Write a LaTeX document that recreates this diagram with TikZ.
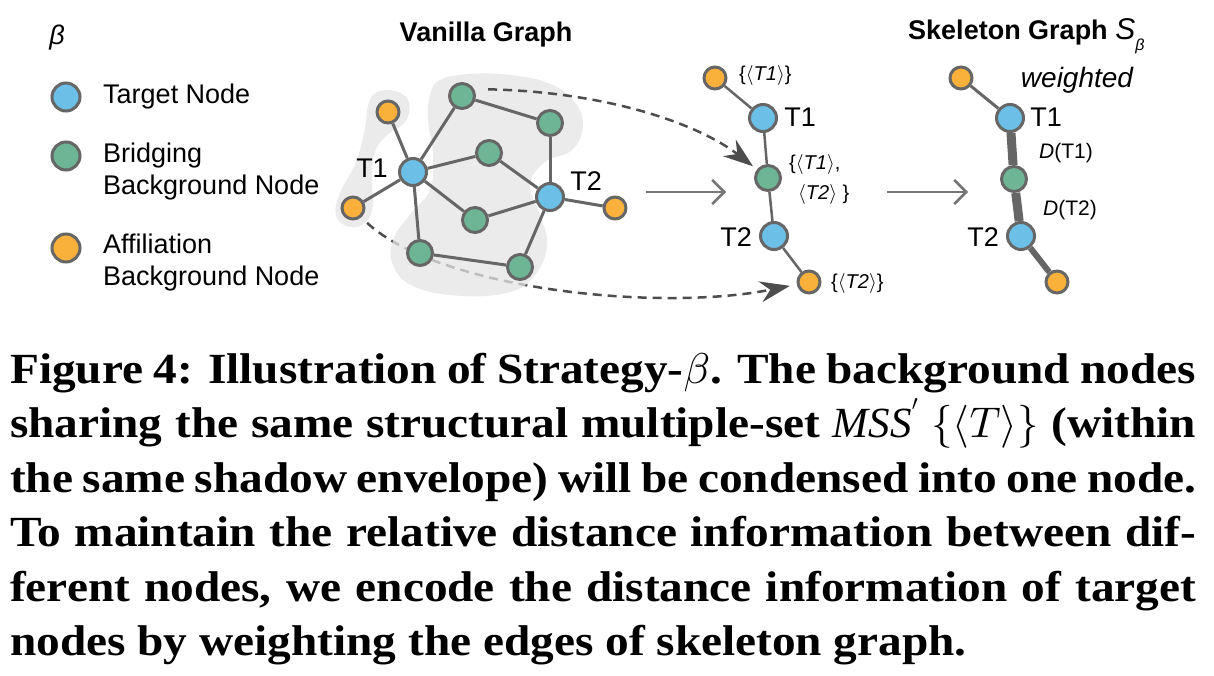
\documentclass[tikz,border=0pt]{standalone}
\usepackage{fontspec}
\setmainfont{Liberation Serif}
\setsansfont{Liberation Sans}
\newfontfamily\capfont{Liberation Serif}[FakeStretch=1.10]
\DeclareFontShape{OML}{cmm}{m}{it}{<->cmmi10}{}
\DeclareFontShape{OMS}{cmsy}{m}{n}{<->cmsy10}{}
\DeclareFontShape{OMX}{cmex}{m}{n}{<->cmex10}{}
\DeclareFontShape{OT1}{cmr}{m}{n}{<->cmr10}{}
\usetikzlibrary{arrows.meta}
\definecolor{tgtblue}{HTML}{6CBFE6}
\definecolor{brgreen}{HTML}{6DB595}
\definecolor{afforange}{HTML}{F9B13B}
\definecolor{rimgray}{HTML}{666666}
\definecolor{shadegray}{HTML}{E4E4E4}
\definecolor{dashgray}{HTML}{4D4D4D}
\pgfdeclarelayer{under}
\pgfdeclarelayer{shade}
\pgfsetlayers{under,shade,main}
\newcommand{\tagset}[1]{\{$\langle$\textit{#1}$\rangle$\}}
\tikzset{
    vertex/.style={circle,draw=rimgray,line width=3pt,inner sep=0pt},
    targetnode/.style={vertex,fill=tgtblue,minimum size=27pt},
    bridgenode/.style={vertex,fill=brgreen,minimum size=25pt},
    affilnode/.style={vertex,fill=afforange,minimum size=22pt},
    legendnode/.style={minimum size=28pt},
    edgeline/.style={draw=rimgray,line width=3pt},
    thinedge/.style={draw=rimgray,line width=2.5pt},
    envelope/.style={fill=shadegray,fill opacity=0.75},
    mapdash/.style={draw=dashgray,line width=2.5pt,dash pattern=on 9pt off 6pt,
        -{Stealth[length=30pt,width=21pt,inset=10pt]}},
    flowarrow/.style={draw=rimgray!90,line width=2.5pt,-{Straight Barb[length=12pt,width=24pt]}},
    biglbl/.style={inner sep=0pt,font=\sffamily\fontsize{27}{32}\selectfont},
    titlelbl/.style={inner sep=0pt,font=\sffamily\bfseries\fontsize{27}{32}\selectfont},
    smalllbl/.style={inner sep=0pt,font=\sffamily\fontsize{20}{30}\selectfont}
}
\begin{document}
\begin{tikzpicture}[x=1pt,y=-1pt,font=\sffamily]
\useasboundingbox (0,0) rectangle (1214,676);
\node[biglbl] (betalbl) at (57,38) {\textit{β}};
\node[targetnode,legendnode] (legT) at (66,97) {};
\node[biglbl,anchor=west] (legTtxt) at (103,97) {Target Node};
\node[bridgenode,legendnode] (legB) at (66,156) {};
\node[biglbl,anchor=west,align=left] (legBtxt) at (103,172) {Bridging\\Background Node};
\node[affilnode,legendnode] (legA) at (66,248) {};
\node[biglbl,anchor=west,align=left] (legAtxt) at (103,263) {Affiliation\\Background Node};
\node[titlelbl] (vantitle) at (486,35) {Vanilla Graph};
\node[titlelbl,anchor=west] (skeltitle) at (908,36) {Skeleton Graph
    {\mdseries\fontsize{30}{30}\selectfont\textit{S}}\raisebox{-11pt}{\mdseries\fontsize{16}{16}\selectfont\textit{β}}};
\node[biglbl,font=\sffamily\itshape\fontsize{28}{32}\selectfont] (weightlbl) at (1077,80) {weighted};
\node[affilnode] (vA1) at (388,112) {};
\node[affilnode] (vA2) at (353,208) {};
\node[affilnode] (vA3) at (615,208) {};
\node[targetnode] (vT1) at (413,172) {};
\node[targetnode] (vT2) at (550,197) {};
\node[bridgenode] (vB1) at (462,96) {};
\node[bridgenode] (vB2) at (550,123) {};
\node[bridgenode] (vB3) at (489,153) {};
\node[bridgenode] (vB4) at (475,220) {};
\node[bridgenode] (vB5) at (420,253) {};
\node[bridgenode] (vB6) at (520,267) {};
\node[biglbl] (vT1lbl) at (372,168) {T1};
\node[biglbl] (vT2lbl) at (586,181) {T2};
\begin{pgfonlayer}{shade}
\path[envelope] plot[smooth cycle,tension=0.7] coordinates {(380,91) (398,92) (409,103) (405,122) (385,137) (374,155) (372,185) (373,205) (366,222) (350,227) (336,216) (340,193) (356,162) (365,128) (369,102)};
\path[envelope] plot[smooth cycle,tension=0.7] coordinates {(440,80) (470,74) (510,75) (548,83) (573,100) (583,125) (572,150) (545,162) (530,185) (540,215) (547,245) (535,275) (510,292) (463,296) (415,287) (393,265) (394,238) (412,212) (430,190) (433,155) (428,120) (430,95)};
\end{pgfonlayer}
\foreach \a/\b in {vT1/vA1,vT1/vA2,vT1/vB1,vT1/vB3,vT1/vB4,vT1/vB5,vB1/vB2,vB2/vT2,vB3/vT2,vB4/vT2,vT2/vA3,vT2/vB6,vB5/vB6}
    \draw[edgeline] (\a) -- (\b);
\node[affilnode] (mA1) at (715,78) {};
\node[targetnode] (mT1) at (763,118) {};
\node[bridgenode] (mB) at (768,178) {};
\node[targetnode] (mT2) at (774,236) {};
\node[affilnode] (mA2) at (809,282) {};
\foreach \a/\b in {mA1/mT1,mT1/mB,mB/mT2,mT2/mA2}
    \draw[thinedge] (\a) -- (\b);
\node[smalllbl,anchor=west] (mA1lbl) at (739,76) {\tagset{T1}};
\node[biglbl] (mT1lbl) at (800,117) {T1};
\node[smalllbl,anchor=west,align=left] (mBlbl) at (789,180) {\{$\langle$\textit{T1}$\rangle$,\\\hspace{9pt}$\langle$\textit{T2}$\rangle$ \}};
\node[biglbl] (mT2lbl) at (736,237) {T2};
\node[smalllbl,anchor=west] (mA2lbl) at (831,283) {\tagset{T2}};
\node[affilnode] (sA1) at (961,78) {};
\node[targetnode] (sT1) at (1010,118) {};
\node[bridgenode] (sB) at (1014,179) {};
\node[targetnode] (sT2) at (1021,236) {};
\node[affilnode] (sA2) at (1057,282) {};
\draw[edgeline] (sA1) -- (sT1);
\draw[edgeline,line width=9pt] (sT1) -- (sB);
\draw[edgeline,line width=9pt] (sB) -- (sT2);
\draw[edgeline,line width=6pt] (sT2) -- (sA2);
\node[biglbl] (sT1lbl) at (1046,117) {T1};
\node[biglbl] (sT2lbl) at (983,237) {T2};
\node[smalllbl,font=\sffamily\fontsize{21}{24}\selectfont] (dT1lbl) at (1066,153) {\textit{D}(T1)};
\node[smalllbl,font=\sffamily\fontsize{21}{24}\selectfont] (dT2lbl) at (1070,210) {\textit{D}(T2)};
\coordinate (flowAs) at (646,192);
\coordinate (flowAe) at (726,192);
\coordinate (flowBs) at (887,192);
\coordinate (flowBe) at (968,192);
\draw[flowarrow] (flowAs) -- (flowAe);
\draw[flowarrow] (flowBs) -- (flowBe);
\draw[mapdash,shorten <=14pt,shorten >=5pt] (vB1.30) .. controls (610,92) and (700,125) .. (mB);
\begin{pgfonlayer}{under}
\draw[mapdash,shorten <=8pt,shorten >=7pt] (vA2.-49) .. controls (440,290) and (660,312) .. (mA2);
\end{pgfonlayer}
\node[anchor=north west,inner sep=0pt,text width=1186pt,align=justify,
    font=\capfont\bfseries\fontsize{43}{54.5}\selectfont] (caption) at (10,353)
    {Figure 4: Illustration of Strategy-$\beta$. The background nodes\linebreak
    sharing the same structural multiple-set $\mathit{MSS}^{'}$ $\{\langle T\rangle\}$ (within\linebreak
    the same shadow envelope) will be condensed into one node.\linebreak
    To maintain the relative distance information between dif-\linebreak
    ferent nodes, we encode the distance information of target\linebreak
    nodes by weighting the edges of skeleton graph.};
\end{tikzpicture}
\end{document}
